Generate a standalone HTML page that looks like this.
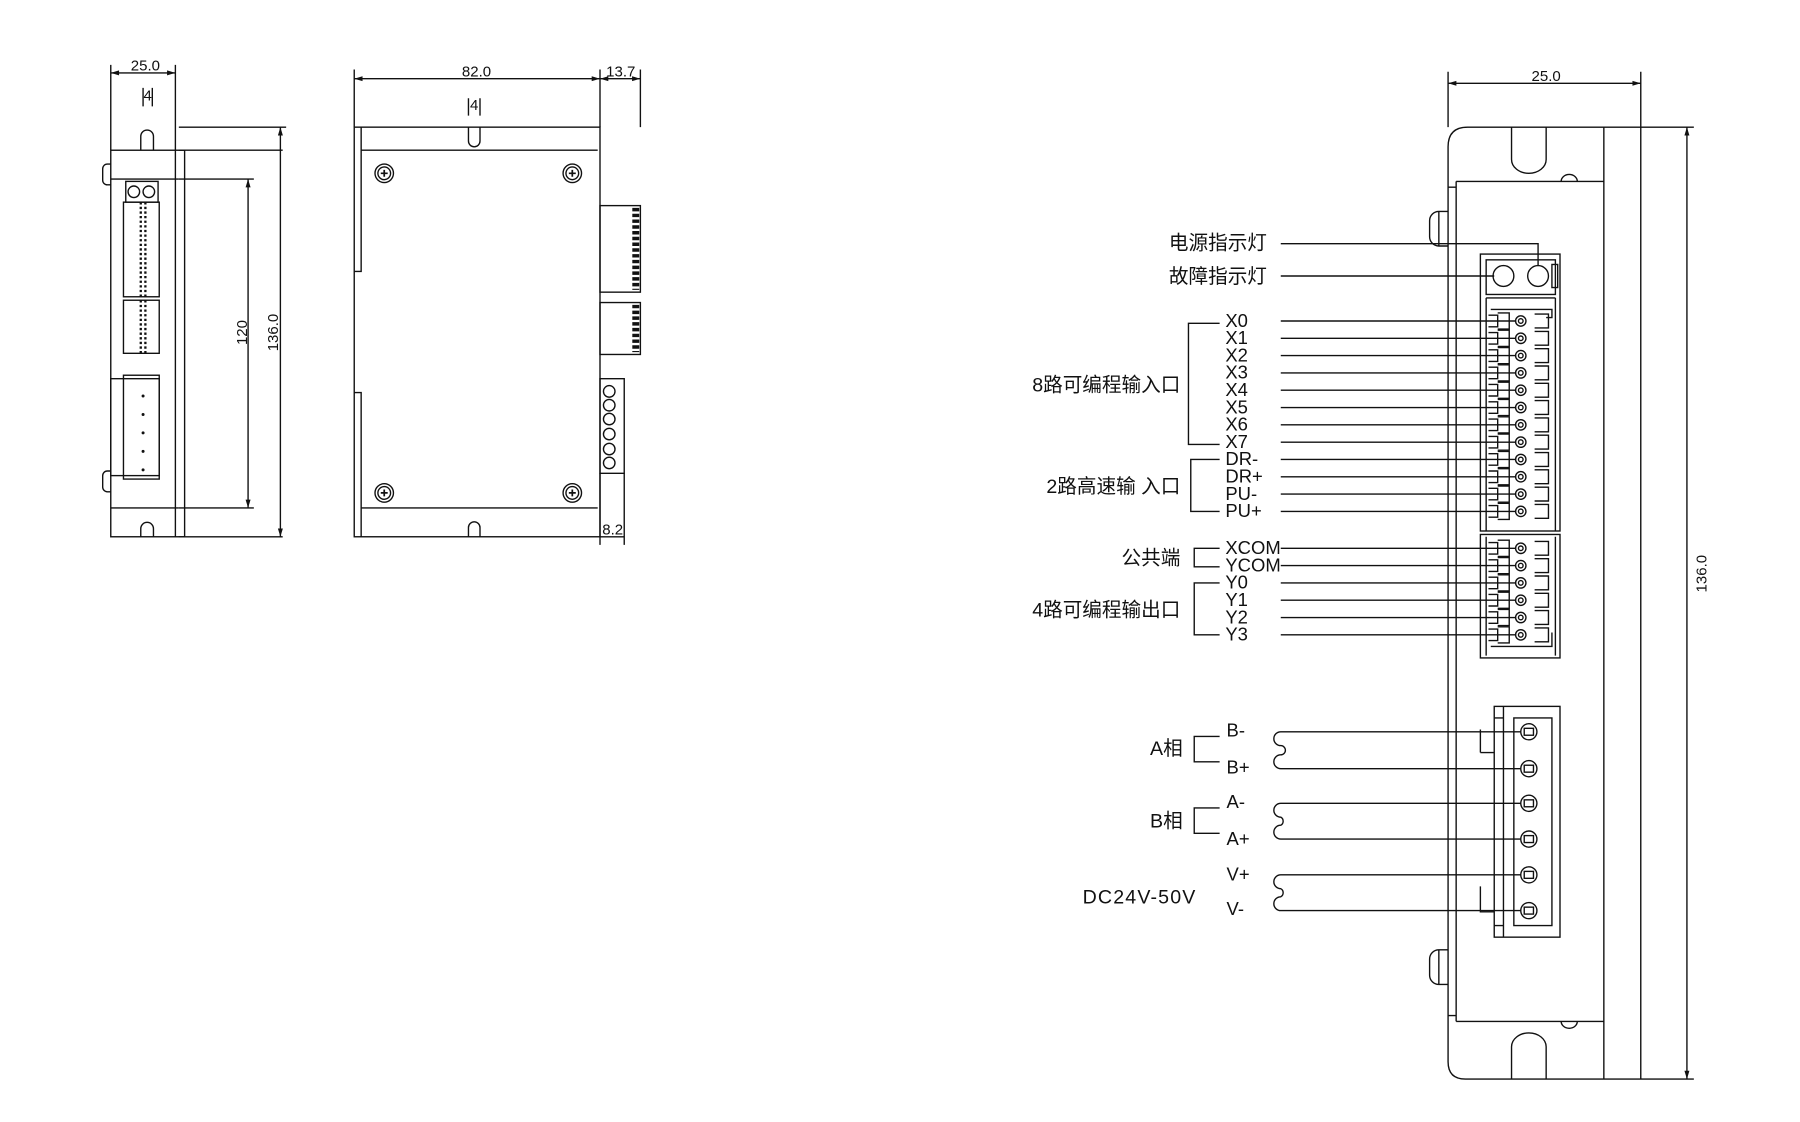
<!DOCTYPE html>
<html><head><meta charset="utf-8"><style>
html,body{margin:0;padding:0;background:#fff;width:1800px;height:1122px;overflow:hidden}
svg{display:block}
text{font-family:"Liberation Sans","Noto Sans CJK SC",sans-serif;fill:#111}
.d{font-size:13px}
.l{font-size:17px}
.p{font-size:16px}
.c{font-family:"Liberation Sans Narrow","Liberation Sans",sans-serif}
</style></head><body>
<svg width="1800" height="1122" viewBox="0 0 1560 972" xmlns="http://www.w3.org/2000/svg" fill="none" stroke="#111" stroke-width="1.2">
<defs>
<marker id="a" viewBox="0 0 10 10" refX="10" refY="5" markerWidth="8" markerHeight="6" orient="auto-start-reverse"><path d="M0,2 L10,5 L0,8 z" fill="#111" stroke="none"/></marker>
<g id="pin"><path d="M1290,-5 h8 v10 h-8 M1298,-7 h10 v14 h-10 M1330,-6 h12 v12 h-12"/><circle cx="1318" cy="0" r="4.5"/><circle cx="1318" cy="0" r="2"/></g>
<g id="scr"><circle r="8"/><circle r="5.5"/><path d="M-3,0 h6 M0,-3 v6" stroke-width="1.5"/></g>
</defs>

<!-- ===== Left view 1 ===== -->
<path d="M96,56 V130 M152,56 V130"/>
<line x1="96" y1="63" x2="152" y2="63" marker-start="url(#a)" marker-end="url(#a)"/>
<text class="d c" x="126" y="61" text-anchor="middle" stroke="none">25.0</text>
<path d="M124,76 V92 M132,76 V92"/><text class="d c" x="128" y="87" text-anchor="middle" stroke="none">4</text>
<rect x="96" y="130" width="64" height="335"/>
<path d="M152,130 V465"/>
<path d="M122,130 V118 a5,5 0 0 1 11,0 V130"/>
<path d="M122,465 V458 a5,5 0 0 1 11,0 V465"/>
<path d="M96,155 H155 M96,440 H155"/>
<path d="M155,130 H245 M155,465 H245 M155,155 H220 M155,440 H220"/>
<line x1="215" y1="155" x2="215" y2="440" marker-start="url(#a)" marker-end="url(#a)"/>
<line x1="243" y1="110" x2="243" y2="465" marker-start="url(#a)" marker-end="url(#a)"/>
<path d="M155,110 H248"/>
<text class="d c" stroke="none" transform="translate(214,288) rotate(-90)" text-anchor="middle">120</text>
<text class="d c" stroke="none" transform="translate(241,288) rotate(-90)" text-anchor="middle">136.0</text>
<path d="M96,142 h-3 a4,4 0 0 0 -4,4 v10 a4,4 0 0 0 4,4 h3 M96,408 h-3 a4,4 0 0 0 -4,4 v10 a4,4 0 0 0 4,4 h3"/>
<rect x="109" y="157" width="28" height="18"/><circle cx="116" cy="166" r="5"/><circle cx="129" cy="166" r="5"/>
<rect x="107" y="175" width="31" height="82"/><path d="M122,175 V257 M126,175 V257" stroke-dasharray="2,2" stroke-width="2"/>
<rect x="107" y="260" width="31" height="46"/><path d="M122,260 V306 M126,260 V306" stroke-dasharray="2,2" stroke-width="2"/>
<rect x="96" y="328" width="42" height="84"/><rect x="107" y="325" width="31" height="90"/>
<g fill="#111" stroke="none"><circle cx="124" cy="343" r="1.3"/><circle cx="124" cy="359" r="1.3"/><circle cx="124" cy="375" r="1.3"/><circle cx="124" cy="391" r="1.3"/><circle cx="124" cy="407" r="1.3"/></g>

<!-- ===== Left view 2 ===== -->
<path d="M307,60 V110 M520,60 V110 M555,60 V110"/>
<line x1="307" y1="68" x2="520" y2="68" marker-start="url(#a)" marker-end="url(#a)"/>
<line x1="520" y1="68" x2="555" y2="68" marker-start="url(#a)" marker-end="url(#a)"/>
<text class="d c" x="413" y="66" text-anchor="middle" stroke="none">82.0</text>
<text class="d c" x="538" y="66" text-anchor="middle" stroke="none">13.7</text>
<path d="M406,85 V100 M416,85 V100"/><text class="d c" x="411" y="95" text-anchor="middle" stroke="none">4</text>
<rect x="307" y="110" width="213" height="355"/>
<path d="M313,110 V235 H307 M307,340 H313 V465 M313,130 H518 M313,440 H518"/>
<path d="M406,110 V122 a5,5 0 0 0 10,0 V110"/>
<path d="M406,465 V457 a5,5 0 0 1 10,0 V465"/>
<use href="#scr" x="333" y="150"/><use href="#scr" x="496" y="150"/><use href="#scr" x="333" y="427"/><use href="#scr" x="496" y="427"/>
<rect x="520" y="178" width="35" height="75"/><path d="M551,180 V251" stroke-dasharray="3,2" stroke-width="6"/>
<rect x="520" y="262" width="35" height="45"/><path d="M551,264 V305" stroke-dasharray="3,2" stroke-width="6"/>
<rect x="520" y="328" width="21" height="82"/>
<circle cx="528" cy="339" r="5"/><circle cx="528" cy="351" r="5"/><circle cx="528" cy="363" r="5"/><circle cx="528" cy="376" r="5"/><circle cx="528" cy="389" r="5"/><circle cx="528" cy="401" r="5"/>
<path d="M520,410 V472 M541,410 V472"/>
<line x1="520" y1="465" x2="541" y2="465"/>
<text class="d c" x="531" y="463" text-anchor="middle" stroke="none">8.2</text>

<!-- ===== Right view ===== -->
<path d="M1255,62 V110 M1422,62 V110"/>
<line x1="1255" y1="72" x2="1422" y2="72" marker-start="url(#a)" marker-end="url(#a)"/>
<text class="d c" x="1340" y="70" text-anchor="middle" stroke="none">25.0</text>
<path d="M1255,920 V127 Q1255,110 1272,110 H1468 M1255,920 Q1255,935 1270,935 H1468"/>
<path d="M1390,110 V935 M1422,110 V935"/>
<line x1="1462" y1="110" x2="1462" y2="935" marker-start="url(#a)" marker-end="url(#a)"/>
<text class="d c" stroke="none" transform="translate(1479,497) rotate(-90)" text-anchor="middle">136.0</text>
<path d="M1262,157 H1390 M1262,885 H1390 M1262,157 V885 M1255,162 H1262 M1255,880 H1262"/>
<path d="M1310,110 V138 a15,12 0 0 0 30,0 V110"/>
<path d="M1310,935 V907 a15,12 0 0 1 30,0 V935"/>
<path d="M1353,157 a7,6 0 0 1 14,0"/><path d="M1353,885 a7,6 0 0 0 14,0"/>
<path d="M1255,183 h-8 a8,8 0 0 0 -8,8 v14 a8,8 0 0 0 8,8 h8 M1247,183 V213"/>
<path d="M1255,823 h-8 a8,8 0 0 0 -8,8 v14 a8,8 0 0 0 8,8 h8 M1247,823 V853"/>
<!-- LED block -->
<rect x="1283" y="220" width="69" height="240"/>
<rect x="1288" y="225" width="60" height="30"/>
<circle cx="1303" cy="239" r="9"/><circle cx="1333" cy="239" r="9"/><rect x="1345" y="229" width="5" height="20"/>
<path d="M1288,258 H1348 M1288,258 V460 M1348,258 V460"/>
<rect x="1283" y="463" width="69" height="107"/><path d="M1288,465 V568 M1348,465 V568"/>
<path d="M1292,268 H1345 V275 H1340 M1292,560 H1345 V548"/>
<use href="#pin" y="278"/><use href="#pin" y="293"/><use href="#pin" y="308"/><use href="#pin" y="323"/>
<use href="#pin" y="338"/><use href="#pin" y="353"/><use href="#pin" y="368"/><use href="#pin" y="383"/>
<use href="#pin" y="398"/><use href="#pin" y="413"/><use href="#pin" y="428"/><use href="#pin" y="443"/>
<use href="#pin" y="475"/><use href="#pin" y="490"/><use href="#pin" y="505"/><use href="#pin" y="520"/>
<use href="#pin" y="535"/><use href="#pin" y="550"/>
<!-- leader lines -->
<path d="M1110,211 H1333 V230 M1110,239 H1295"/>
<path d="M1110,278 H1314 M1110,293 H1314 M1110,308 H1314 M1110,323 H1314 M1110,338 H1314 M1110,353 H1314 M1110,368 H1314 M1110,383 H1314 M1110,398 H1314 M1110,413 H1314 M1110,428 H1314 M1110,443 H1314 M1110,475 H1314 M1110,490 H1314 M1110,505 H1314 M1110,520 H1314 M1110,535 H1314 M1110,550 H1314"/>
<g class="p" stroke="none">
<text class="l" x="1098" y="216" text-anchor="end">电源指示灯</text>
<text class="l" x="1098" y="245" text-anchor="end">故障指示灯</text>
<g class="c">
<text x="1062" y="283">X0</text><text x="1062" y="298">X1</text><text x="1062" y="313">X2</text><text x="1062" y="328">X3</text>
<text x="1062" y="343">X4</text><text x="1062" y="358">X5</text><text x="1062" y="373">X6</text><text x="1062" y="388">X7</text>
<text x="1062" y="403">DR-</text><text x="1062" y="418">DR+</text><text x="1062" y="433">PU-</text><text x="1062" y="448">PU+</text>
<text x="1062" y="480">XCOM</text><text x="1062" y="495">YCOM</text><text x="1062" y="510">Y0</text><text x="1062" y="525">Y1</text>
<text x="1062" y="540">Y2</text><text x="1062" y="555">Y3</text>
</g>
<text class="l" x="1023" y="339" text-anchor="end">8路可编程输入口</text>
<text class="l" x="1023" y="427" text-anchor="end">2路高速输 入口</text>
<text class="l" x="1023" y="489" text-anchor="end">公共端</text>
<text class="l" x="1023" y="534" text-anchor="end">4路可编程输出口</text>
</g>
<path d="M1057,280 H1030 V385 H1057 M1057,398 H1032 V443 H1057 M1057,475 H1035 V491 H1057 M1057,505 H1035 V550 H1057"/>
<!-- power connector -->
<rect x="1295" y="612" width="57" height="200"/>
<path d="M1303,612 V812 M1312,622 H1345 V802 H1312 Z M1295,622 H1303 M1295,802 H1303 M1283,652 H1295 M1283,652 V632 M1283,768 V790 H1295"/>
<g><circle cx="1325" cy="634" r="7"/><rect x="1321" y="631" width="8" height="6"/>
<circle cx="1325" cy="666" r="7"/><rect x="1321" y="663" width="8" height="6"/>
<circle cx="1325" cy="696" r="7"/><rect x="1321" y="693" width="8" height="6"/>
<circle cx="1325" cy="727" r="7"/><rect x="1321" y="724" width="8" height="6"/>
<circle cx="1325" cy="758" r="7"/><rect x="1321" y="755" width="8" height="6"/>
<circle cx="1325" cy="789" r="7"/><rect x="1321" y="786" width="8" height="6"/></g>
<path d="M1318,634 H1110 a6,6 0 0 0 0,12 a4,4 0 0 1 0,8 a6,6 0 0 0 0,12 H1318"/>
<path d="M1318,696 H1110 a6,6 0 0 0 0,12 a4,4 0 0 1 0,7 a6,6 0 0 0 0,12 H1318"/>
<path d="M1318,758 H1110 a6,6 0 0 0 0,12 a4,4 0 0 1 0,7 a6,6 0 0 0 0,12 H1318"/>
<g class="p" stroke="none">
<text x="1063" y="638">B-</text><text x="1063" y="670">B+</text><text x="1063" y="700">A-</text><text x="1063" y="732">A+</text><text x="1063" y="763">V+</text><text x="1063" y="793">V-</text>
<text class="l" x="1025" y="654" text-anchor="end">A相</text>
<text class="l" x="1025" y="717" text-anchor="end">B相</text>
<text class="l" x="1037" y="783" text-anchor="end" style="letter-spacing:1px">DC24V-50V</text>
</g>
<path d="M1057,638 H1035 V660 H1057 M1057,700 H1035 V722 H1057"/>
</svg>
</body></html>
